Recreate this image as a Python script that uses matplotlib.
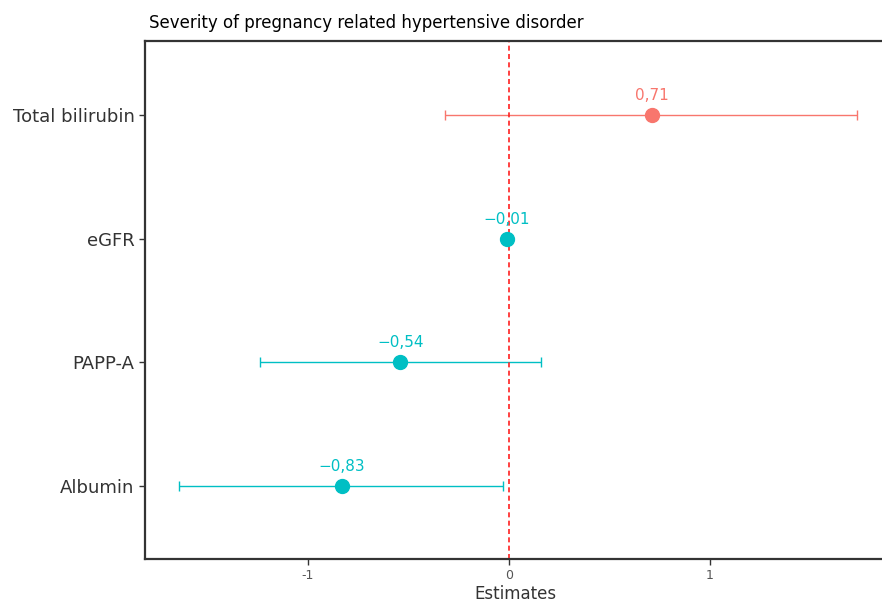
import matplotlib.pyplot as plt

terms = ["Albumin", "PAPP-A", "eGFR", "Total bilirubin"]
estimates = [-0.83, -0.54, -0.01, 0.71]
ci_low = [-1.64, -1.24, -0.02, -0.32]
ci_high = [-0.03, 0.16, 0.00, 1.73]
labels = ["\u22120,83", "\u22120,54", "\u22120,01", "0,71"]
colors = ["#00BFC4", "#00BFC4", "#00BFC4", "#F8766D"]

fig = plt.figure(figsize=(8.82, 6.03), dpi=100)
ax = fig.add_axes([145 / 882, 1 - 559 / 603, 741 / 882, (559 - 41) / 603])

# reference line sits over the error bars but under the points
ax.axvline(0, color="#FF2020", linestyle=(0, (3, 2)), linewidth=1.2, zorder=2.5)

for i, (est, lo, hi, lab, col) in enumerate(zip(estimates, ci_low, ci_high, labels, colors)):
    y = i + 1
    ax.errorbar(est, y, xerr=[[est - lo], [hi - est]], fmt="none", ecolor=col,
                elinewidth=1, capsize=3.5, capthick=1, zorder=2)
    ax.plot(est, y, "o", color=col, markersize=10, zorder=3)
    ax.annotate(lab, (est, y), xytext=(0, 14), textcoords="offset points",
                ha="center", va="center", color=col, fontsize=11)

ax.set_yticks(range(1, len(terms) + 1))
ax.set_yticklabels(terms, fontsize=13, color="#333333")
ax.set_xticks([-1, 0, 1])
ax.set_xticklabels(["-1", "0", "1"], fontsize=9, color="#555555")
ax.set_xlim(-1.81, 1.876)
ax.set_ylim(0.41, 4.6)
ax.set_xlabel("Estimates", fontsize=12, color="#333333", labelpad=2)
ax.set_title("Severity of pregnancy related hypertensive disorder", loc="left",
             fontsize=12, pad=9, x=0.005)

for s in ax.spines.values():
    s.set_linewidth(1.6)
    s.set_color("#333333")
ax.tick_params(length=4, width=1, color="#333333")

fig.savefig("out.png", dpi=100)
